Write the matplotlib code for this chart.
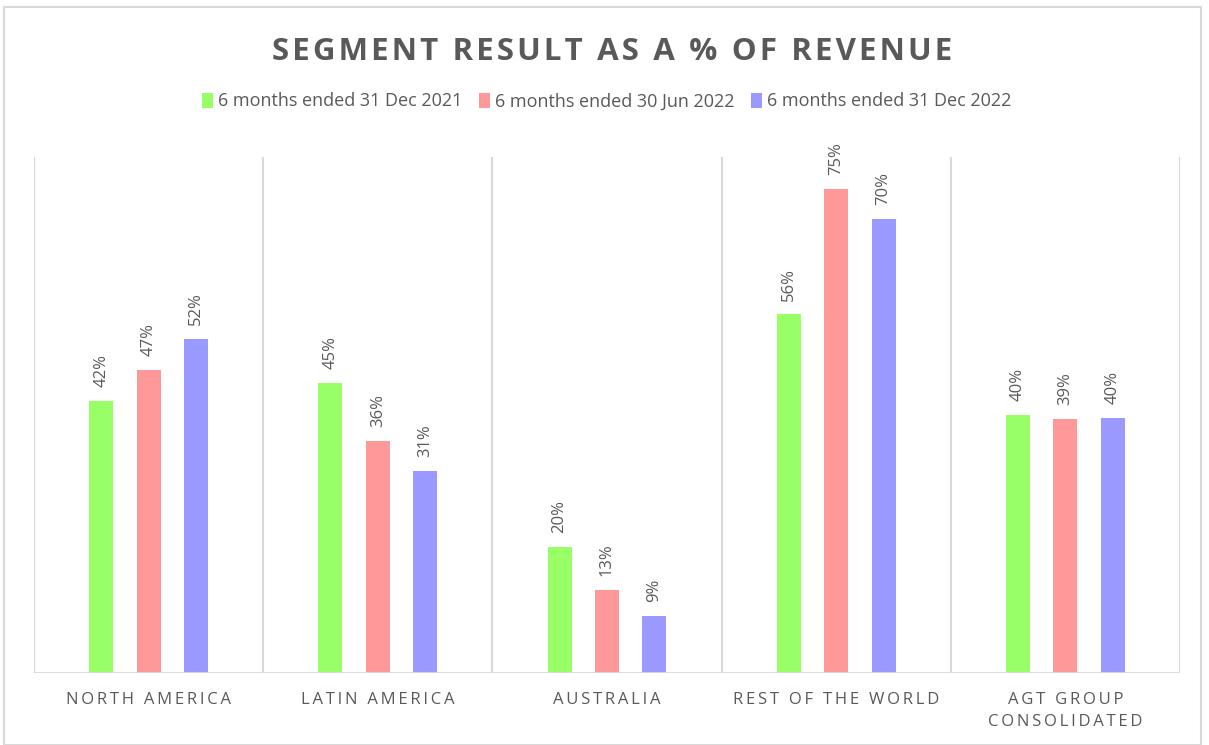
#!/usr/bin/env python3
import numpy as np
import matplotlib.pyplot as plt
from matplotlib.patches import Rectangle

categories = ['NORTH AMERICA', 'LATIN AMERICA', 'AUSTRALIA', 'REST OF THE WORLD', 'AGT GROUP\nCONSOLIDATED']
series = ['6 months ended 31 Dec 2021', '6 months ended 30 Jun 2022', '6 months ended 31 Dec 2022']
dec21 = [0.422, 0.450, 0.196, 0.556, 0.400]
jun22 = [0.470, 0.360, 0.129, 0.750, 0.394]
dec22 = [0.518, 0.313, 0.088, 0.704, 0.396]
colors = ['#99FF66', '#FF9999', '#9999FF']

TXT = '#595959'
GRID = '#D9D9D9'
FONT = ['Open Sans', 'DejaVu Sans']
plt.rcParams['font.family'] = FONT


def spaced(s, sep='\u2009'):
    # fake letter spacing
    return '\n'.join(sep.join(line) for line in s.split('\n'))


fig = plt.figure(figsize=(12.09, 7.45), dpi=100)
fig.patches.append(Rectangle((0.003, 0.0), 0.99, 0.99, transform=fig.transFigure,
                             fill=False, edgecolor=GRID, lw=1.5))
ax = fig.add_axes([0.0281, 0.0966, 0.9479, 0.6926])

x = np.arange(len(categories))
width = 0.105
offs = [-0.207, 0, 0.207]
for vals, off, col, name in zip([dec21, jun22, dec22], offs, colors, series):
    bars = ax.bar(x + off, vals, width, color=col, label=name, zorder=3)
    for b, v in zip(bars, vals):
        ax.annotate('{:.0%}'.format(v), (b.get_x() + b.get_width() / 2, v),
                    xytext=(0, 10), textcoords='offset points', rotation=90,
                    ha='center', va='bottom', color=TXT, fontsize=12)

ax.set_xlim(-0.5, len(categories) - 0.5)
ax.set_ylim(0, 0.8)
for b in np.arange(-0.5, len(categories), 1.0):
    ax.axvline(b, color=GRID, lw=1.5, zorder=1)
for s in ax.spines.values():
    s.set_visible(False)
ax.axhline(0, color=GRID, lw=2, zorder=4)
ax.set_yticks([])
ax.set_xticks(x)
ax.set_xticklabels([spaced(c) for c in categories], color=TXT, fontsize=12,
                   linespacing=1.45)
ax.tick_params(axis='x', length=0, pad=14)

fig.text(0.506, 0.930, spaced('SEGMENT RESULT AS A % OF REVENUE', '\u200a'),
         ha='center', va='center', fontsize=22.5, fontweight='bold', color=TXT)
ax.legend(loc='center', bbox_to_anchor=(0.5, 1.108), ncol=3, frameon=False,
          fontsize=13, labelcolor=TXT, handlelength=0.6, handleheight=0.9,
          handletextpad=0.3, columnspacing=0.9)

fig.savefig('out.png')
